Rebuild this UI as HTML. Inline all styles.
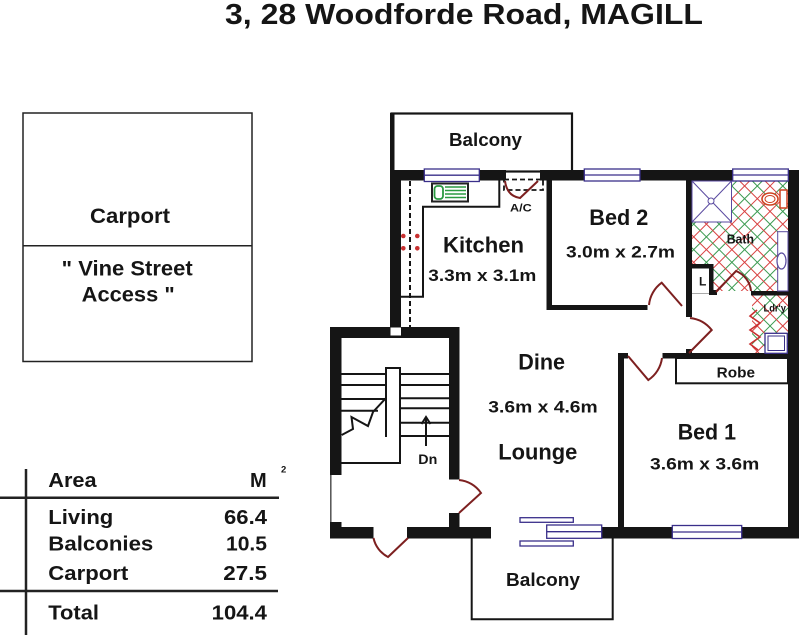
<!DOCTYPE html>
<html><head><meta charset="utf-8"><style>
html,body{margin:0;padding:0;background:#fff;}
svg{display:block;}
text{font-family:"Liberation Sans",Arial,sans-serif;font-weight:bold;fill:#151515;}
</style></head><body>
<svg width="800" height="636" viewBox="0 0 800 636" xmlns="http://www.w3.org/2000/svg">
<defs>
<pattern id="hatch" width="18" height="18" patternUnits="userSpaceOnUse" patternTransform="rotate(45)">
 <line x1="1" y1="0" x2="1" y2="18" stroke="#3a9a50" stroke-width="1"/>
 <line x1="10" y1="0" x2="10" y2="18" stroke="#d84040" stroke-width="1"/>
 <line x1="0" y1="1" x2="18" y2="1" stroke="#d84040" stroke-width="1"/>
 <line x1="0" y1="10" x2="18" y2="10" stroke="#3a9a50" stroke-width="1"/>
</pattern>
</defs>
<rect x="0" y="0" width="800" height="636" fill="#fff"/>

<!-- Title -->
<text x="225" y="24" font-size="29" textLength="478" lengthAdjust="spacingAndGlyphs">3, 28 Woodforde Road, MAGILL</text>

<!-- Carport -->
<rect x="23" y="113" width="229" height="248.5" fill="none" stroke="#222" stroke-width="1.5"/>
<line x1="23" y1="245.7" x2="252" y2="245.7" stroke="#222" stroke-width="1.5"/>
<text x="90" y="223" font-size="21" textLength="80" lengthAdjust="spacingAndGlyphs">Carport</text>
<text x="61.7" y="275.7" font-size="21" textLength="131" lengthAdjust="spacingAndGlyphs">" Vine Street</text>
<text x="81.7" y="301.7" font-size="21" textLength="93" lengthAdjust="spacingAndGlyphs">Access "</text>

<!-- Area table -->
<line x1="26" y1="469" x2="26" y2="635" stroke="#222" stroke-width="2.5"/>
<line x1="0" y1="497.7" x2="279" y2="497.7" stroke="#222" stroke-width="2.5"/>
<line x1="0" y1="591" x2="278" y2="591" stroke="#222" stroke-width="2.5"/>
<text x="48.3" y="487" font-size="20" textLength="48.3" lengthAdjust="spacingAndGlyphs">Area</text>
<text x="250" y="487" font-size="20" textLength="16.7" lengthAdjust="spacingAndGlyphs">M</text>
<text x="281" y="472.7" font-size="9.5">2</text>
<text x="48.3" y="524" font-size="20" textLength="65" lengthAdjust="spacingAndGlyphs">Living</text>
<text x="224" y="524" font-size="20" textLength="43" lengthAdjust="spacingAndGlyphs">66.4</text>
<text x="48.3" y="550.7" font-size="20" textLength="105" lengthAdjust="spacingAndGlyphs">Balconies</text>
<text x="226" y="550.7" font-size="20" textLength="41" lengthAdjust="spacingAndGlyphs">10.5</text>
<text x="48.3" y="580" font-size="20" textLength="80" lengthAdjust="spacingAndGlyphs">Carport</text>
<text x="223.3" y="580" font-size="20" textLength="43.7" lengthAdjust="spacingAndGlyphs">27.5</text>
<text x="48.3" y="619.3" font-size="20" textLength="50.7" lengthAdjust="spacingAndGlyphs">Total</text>
<text x="211.7" y="619.3" font-size="20" textLength="55.3" lengthAdjust="spacingAndGlyphs">104.4</text>

<!-- Top balcony -->
<rect x="391.5" y="113.5" width="180.5" height="58" fill="none" stroke="#151515" stroke-width="2.2"/>
<rect x="390" y="113" width="4.5" height="58" fill="#151515"/>
<text x="449" y="146" font-size="18" textLength="73" lengthAdjust="spacingAndGlyphs">Balcony</text>

<!-- Bath hatch -->
<polygon points="731,181 788,181 788,231.7 777.7,231.7 777.7,291 713,291 713,264 692,264 692,222 731,222" fill="url(#hatch)"/>
<rect x="752" y="295" width="36" height="58" fill="url(#hatch)"/>

<!-- Walls -->
<g fill="#151515">
<rect x="390" y="170" width="116" height="10.5"/>
<rect x="540" y="170" width="259" height="10.5"/>
<rect x="390" y="170" width="11" height="158"/>
<rect x="546.5" y="180" width="5.5" height="130"/>
<rect x="546.5" y="305" width="101" height="5"/>
<rect x="686" y="170" width="6" height="147"/>
<rect x="686" y="349" width="6" height="9"/>
<rect x="692" y="264" width="21" height="4.5"/>
<rect x="709" y="264" width="4.5" height="31"/>
<rect x="713" y="290" width="4" height="5"/>
<rect x="751" y="291" width="37" height="4.5"/>
<rect x="788" y="170" width="11" height="368"/>
<rect x="618" y="353" width="10" height="5.5"/>
<rect x="662.5" y="353" width="136.5" height="5.5"/>
<rect x="618" y="353" width="6" height="184"/>
<rect x="601.5" y="527" width="197.5" height="11.5"/>
<rect x="407" y="527" width="84" height="11.5"/>
<rect x="330" y="527" width="43.5" height="11.5"/>
<rect x="330" y="327" width="11.5" height="211"/>
<rect x="330" y="327" width="129.5" height="11"/>
<rect x="449" y="327" width="10.5" height="152.5"/>
<rect x="449" y="513" width="10.5" height="25"/>
</g>
<rect x="390.5" y="327.5" width="10.5" height="8" fill="#fff"/>
<!-- stair left window -->
<rect x="330.5" y="475" width="11" height="47" fill="#fff"/>
<line x1="331.2" y1="475" x2="331.2" y2="522" stroke="#888" stroke-width="1.2"/>

<!-- L cupboard bottom line -->
<line x1="692" y1="293.5" x2="709" y2="293.5" stroke="#aaa" stroke-width="1"/>
<text x="699" y="285.7" font-size="12">L</text>

<!-- Windows -->
<g fill="#fff" stroke="#3a2f8a" stroke-width="1.3">
<rect x="424.3" y="169" width="55" height="12.5"/><line x1="424.3" y1="175.2" x2="479.3" y2="175.2"/>
<rect x="584.3" y="169" width="55.7" height="12"/><line x1="584.3" y1="175" x2="640" y2="175"/>
<rect x="732.7" y="169" width="55.6" height="12"/><line x1="732.7" y1="175" x2="788.3" y2="175"/>
<rect x="672.3" y="525.5" width="69.4" height="13"/><line x1="672.3" y1="532" x2="741.7" y2="532"/>
<rect x="520" y="517.7" width="53.3" height="4.6"/>
<rect x="520" y="541" width="53.3" height="5"/>
<rect x="546.7" y="525" width="55" height="13.3"/><line x1="546.7" y1="531.7" x2="601.7" y2="531.7"/>
</g>

<!-- Kitchen details -->
<path d="M401,296.7 L423,296.7 L423,206.7 L499.3,206.7 L499.3,180" fill="none" stroke="#151515" stroke-width="2"/>
<line x1="410" y1="181" x2="410" y2="327" stroke="#151515" stroke-width="2" stroke-dasharray="5 3"/>
<g fill="#c83030">
<circle cx="403.3" cy="236" r="2.3"/><circle cx="417.3" cy="236" r="2.3"/>
<circle cx="403.3" cy="248.3" r="2.3"/><circle cx="417.3" cy="248.3" r="2.3"/>
</g>
<rect x="432" y="183.5" width="36" height="18" fill="#fff" stroke="#222" stroke-width="2"/>
<rect x="434.5" y="186" width="8.5" height="13" rx="3" fill="none" stroke="#2a9a40" stroke-width="1.8"/>
<g stroke="#2a9a40" stroke-width="1.6">
<line x1="445" y1="187" x2="466" y2="187"/><line x1="445" y1="190.5" x2="466" y2="190.5"/>
<line x1="445" y1="194" x2="466" y2="194"/><line x1="445" y1="197.5" x2="466" y2="197.5"/>
</g>
<rect x="504" y="179.5" width="39" height="10.5" fill="none" stroke="#151515" stroke-width="1.8" stroke-dasharray="5 3"/>
<text x="510" y="211.7" font-size="11" textLength="21.7" lengthAdjust="spacingAndGlyphs">A/C</text>

<!-- Doors -->
<g fill="none" stroke="#7d2020" stroke-width="2">
<path d="M505,181 Q507,196 520,198 L538,181"/>
<path d="M682,306 L661.7,282.7 A31,31 0 0,0 649,305"/>
<path d="M689,353 L711.7,330 A32,32 0 0,0 690,318"/>
<path d="M716,292 L736,271 A24,24 0 0,1 751,291"/>
<path d="M628,356 L648.3,380 A31,31 0 0,0 662,358"/>
<path d="M459,513 L481,493 A30,30 0 0,0 459,480"/>
<path d="M408,538 L388,557 A28,28 0 0,1 373.5,538"/>
</g>
<polyline points="757,310 750,316 760,323 750,330 760,337 750,344 758,350" fill="none" stroke="#c83030" stroke-width="1.6"/>

<!-- Bath fixtures -->
<rect x="692" y="181" width="39.5" height="41" fill="#fff" stroke="#5a4aa0" stroke-width="1"/>
<line x1="692" y1="181" x2="731.5" y2="222" stroke="#5a4aa0" stroke-width="1"/>
<line x1="731.5" y1="181" x2="692" y2="222" stroke="#5a4aa0" stroke-width="1"/>
<circle cx="711" cy="201" r="3" fill="#fff" stroke="#5a4aa0" stroke-width="1"/>
<rect x="780" y="190" width="7" height="18" fill="#fff" stroke="#d04020" stroke-width="1.5"/>
<ellipse cx="770" cy="199" rx="8" ry="6" fill="#fff" stroke="#d04020" stroke-width="1.6"/>
<ellipse cx="770" cy="199" rx="5" ry="3.5" fill="none" stroke="#d04020" stroke-width="1"/>
<rect x="777.7" y="231.7" width="10.3" height="59.3" fill="#fff" stroke="#5a4aa0" stroke-width="1"/>
<ellipse cx="781.5" cy="261" rx="4.5" ry="8" fill="#fff" stroke="#5a4aa0" stroke-width="1.2"/>
<rect x="765" y="333.3" width="22.3" height="20" fill="#fff" stroke="#3a2f8a" stroke-width="1.3"/>
<rect x="768" y="336" width="16.5" height="14.5" fill="none" stroke="#3a2f8a" stroke-width="1"/>
<text x="726.7" y="243.3" font-size="13" textLength="27.3" lengthAdjust="spacingAndGlyphs">Bath</text>
<text x="763.5" y="311.7" font-size="10" textLength="22.5" lengthAdjust="spacingAndGlyphs">Ldr'y</text>

<!-- Robe -->
<rect x="676" y="358" width="112" height="25.3" fill="none" stroke="#151515" stroke-width="2"/>
<text x="716.7" y="377.3" font-size="14.5" textLength="38.3" lengthAdjust="spacingAndGlyphs">Robe</text>

<!-- Stairs -->
<g stroke="#151515" stroke-width="2" fill="none">
<line x1="341" y1="374" x2="386" y2="374"/><line x1="341" y1="385" x2="386" y2="385"/>
<line x1="341" y1="399" x2="386" y2="399"/><line x1="341" y1="410.7" x2="378" y2="410.7"/>
<line x1="400" y1="374" x2="449" y2="374"/><line x1="400" y1="385" x2="449" y2="385"/>
<line x1="400" y1="398.3" x2="449" y2="398.3"/><line x1="400" y1="408.3" x2="449" y2="408.3"/>
<line x1="400" y1="422.7" x2="449" y2="422.7"/><line x1="400" y1="436" x2="449" y2="436"/>
<path d="M386,437 L386,368 L400,368 L400,463 L341,463"/>
<path d="M341.7,435 L353,429 L351.5,417 L368,426 L373,412 L386,398"/>
<line x1="426" y1="446" x2="426" y2="418"/>
<path d="M421.5,424 L426,417 L430.5,424"/>
</g>
<text x="418.3" y="464" font-size="14" textLength="19" lengthAdjust="spacingAndGlyphs">Dn</text>

<!-- Bottom balcony -->
<path d="M471.7,538 L471.7,619.3 L612.7,619.3 L612.7,538" fill="none" stroke="#151515" stroke-width="2"/>
<text x="506" y="586" font-size="18" textLength="74" lengthAdjust="spacingAndGlyphs">Balcony</text>

<!-- Room labels -->
<text x="443" y="252.7" font-size="22" textLength="81" lengthAdjust="spacingAndGlyphs">Kitchen</text>
<text x="428.3" y="281" font-size="17" textLength="108" lengthAdjust="spacingAndGlyphs">3.3m x 3.1m</text>
<text x="589.3" y="225" font-size="22" textLength="59" lengthAdjust="spacingAndGlyphs">Bed 2</text>
<text x="566" y="257.7" font-size="17" textLength="109" lengthAdjust="spacingAndGlyphs">3.0m x 2.7m</text>
<text x="518.3" y="369.3" font-size="22" textLength="46.7" lengthAdjust="spacingAndGlyphs">Dine</text>
<text x="488.3" y="412.7" font-size="17" textLength="109.4" lengthAdjust="spacingAndGlyphs">3.6m x 4.6m</text>
<text x="498.3" y="459.3" font-size="22" textLength="79" lengthAdjust="spacingAndGlyphs">Lounge</text>
<text x="677.7" y="439.3" font-size="22" textLength="58.3" lengthAdjust="spacingAndGlyphs">Bed 1</text>
<text x="650" y="469.3" font-size="17" textLength="109.3" lengthAdjust="spacingAndGlyphs">3.6m x 3.6m</text>
</svg>
</body></html>
